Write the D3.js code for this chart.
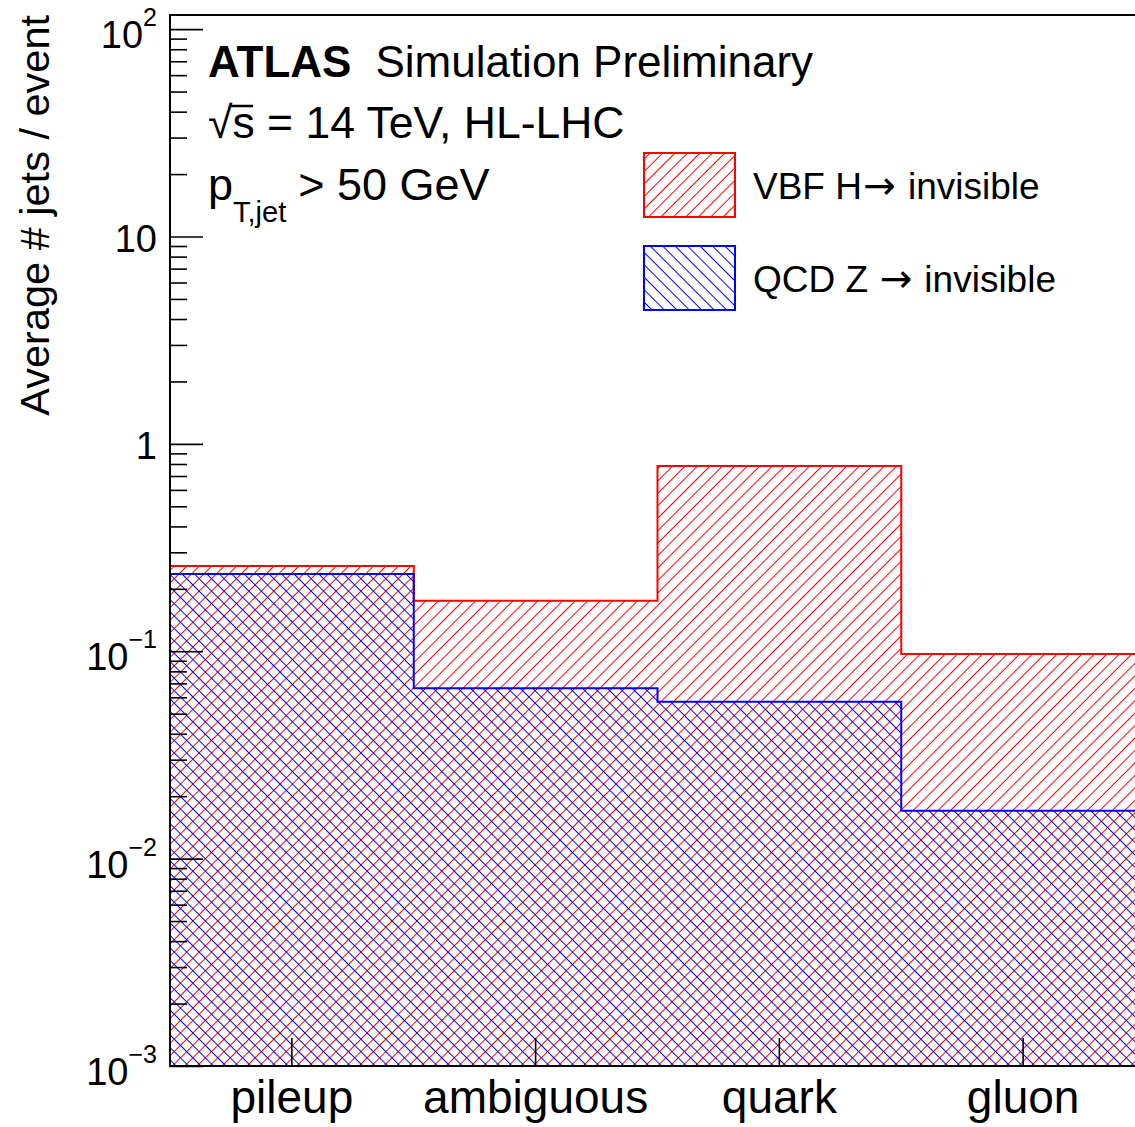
<!DOCTYPE html>
<html>
<head>
<meta charset="utf-8">
<script src="https://cdn.jsdelivr.net/npm/d3@7"></script>
<style>
  body { margin: 0; background: #fff; }
  svg { display: block; font-family: "Liberation Sans", Arial, Helvetica, sans-serif; }
</style>
</head>
<body>
<script>
// data
var categories = ["pileup", "ambiguous", "quark", "gluon"];
var vbfValues = [0.258, 0.175, 0.783, 0.0969];   // VBF H -> invisible
var qcdValues = [0.236, 0.0664, 0.0571, 0.0170]; // QCD Z -> invisible
var yMajorTicks = [0.001, 0.01, 0.1, 1, 10, 100];
var yTickLabels = [["10", "\u22123"], ["10", "\u22122"], ["10", "\u22121"], ["1", ""], ["10", ""], ["10", "2"]];
var yMin = 0.001, yMax = 117;

var W = 1135, H = 1127;
var margin = {top: 15, left: 170, bottom: 61};
var plotRight = 1145;  // frame runs off the right side of the picture

var svg = d3.select("body").append("svg")
  .attr("width", W)
  .attr("height", H);

var defs = svg.append("defs");
function hatch(id, color, angle) {
  var s = 8.8;
  var p = defs.append("pattern")
    .attr("id", id)
    .attr("patternUnits", "userSpaceOnUse")
    .attr("width", s).attr("height", s)
    .attr("patternTransform", "rotate(" + angle + ")");
  p.append("line")
    .attr("x1", 0).attr("y1", s / 2).attr("x2", s).attr("y2", s / 2)
    .attr("stroke", color).attr("stroke-width", 1);
}
hatch("hatchRed", "#ff0000", -45);
hatch("hatchBlue", "#0000ff", 45);

var x = d3.scaleBand()
  .domain(categories)
  .range([margin.left, plotRight])
  .padding(0);

var y = d3.scaleLog()
  .domain([yMin, yMax])
  .range([H - margin.bottom, margin.top]);

// step outline of a histogram
function stepPoints(values) {
  var pts = [[x(categories[0]), y(yMin)]];
  values.forEach(function(v, i) {
    var x0 = x(categories[i]);
    pts.push([x0, y(v)]);
    pts.push([x0 + x.bandwidth(), y(v)]);
  });
  pts.push([x(categories[categories.length - 1]) + x.bandwidth(), y(yMin)]);
  return pts;
}
var line = d3.line();

svg.append("path")
  .attr("d", line(stepPoints(vbfValues)))
  .attr("fill", "url(#hatchRed)")
  .attr("stroke", "#ff0000")
  .attr("stroke-width", 2);

svg.append("path")
  .attr("d", line(stepPoints(qcdValues)))
  .attr("fill", "url(#hatchBlue)")
  .attr("stroke", "#0000ff")
  .attr("stroke-width", 2);

// frame
svg.append("path")
  .attr("d", "M" + plotRight + "," + margin.top + "H" + margin.left + "V" + (H - margin.bottom) + "H" + plotRight)
  .attr("fill", "none")
  .attr("stroke", "#000")
  .attr("stroke-width", 2);

// y ticks (inside the frame)
var minorTicks = [];
for (var e = -3; e <= 2; e++) {
  for (var m = 2; m <= 9; m++) {
    var v = m * Math.pow(10, e);
    if (v <= yMax) minorTicks.push(v);
  }
}
svg.append("g")
  .attr("transform", "translate(" + margin.left + ",0)")
  .call(d3.axisRight(y).tickValues(yMajorTicks).tickSize(33).tickFormat(""))
  .call(function(g) { g.select(".domain").remove(); g.selectAll("line").attr("stroke-width", 1.6); });
svg.append("g")
  .attr("transform", "translate(" + margin.left + ",0)")
  .call(d3.axisRight(y).tickValues(minorTicks).tickSize(17).tickFormat(""))
  .call(function(g) { g.select(".domain").remove(); g.selectAll("line").attr("stroke-width", 1.6); });

// y tick labels with exponents
yMajorTicks.forEach(function(v, i) {
  var lab = yTickLabels[i];
  var t = svg.append("text")
    .attr("x", 157)
    .attr("y", y(v) + (lab[1] ? 19 : 15))
    .attr("text-anchor", "end")
    .attr("font-size", 38);
  t.append("tspan").text(lab[0]);
  if (lab[1]) {
    t.append("tspan").attr("dy", -22).attr("font-size", 25).text(lab[1]);
  }
});

// x ticks (pointing up) and labels
svg.append("g")
  .attr("transform", "translate(0," + (H - margin.bottom) + ")")
  .call(d3.axisTop(x).tickSize(28).tickFormat(""))
  .call(function(g) { g.select(".domain").remove(); g.selectAll("line").attr("stroke-width", 1.6); });
svg.append("g")
  .attr("transform", "translate(0," + (H - margin.bottom) + ")")
  .call(d3.axisBottom(x).tickSize(0).tickPadding(0))
  .call(function(g) {
    g.select(".domain").remove();
    g.selectAll("text")
      .attr("dy", null)
      .attr("y", 47)
      .attr("font-size", 46)
      .attr("font-family", "Liberation Sans, Arial, sans-serif")
      .attr("fill", "#000");
  });

// y axis title
svg.append("text")
  .attr("transform", "translate(49," + margin.top + ") rotate(-90)")
  .attr("text-anchor", "end")
  .attr("font-size", 41.5)
  .text("Average # jets / event");

// ATLAS labels
var lab1 = svg.append("text").attr("x", 208).attr("y", 77).attr("font-size", 44);
lab1.append("tspan").attr("font-weight", "bold").text("ATLAS");
lab1.append("tspan").attr("dx", 24).text("Simulation Preliminary");

svg.append("text").attr("x", 208).attr("y", 138).attr("font-size", 44.5)
  .text("\u221As = 14 TeV, HL-LHC");
svg.append("line")
  .attr("x1", 231).attr("x2", 253).attr("y1", 106).attr("y2", 106)
  .attr("stroke", "#000").attr("stroke-width", 2.5);

var lab3 = svg.append("text").attr("x", 208).attr("y", 200).attr("font-size", 45);
lab3.append("tspan").text("p");
lab3.append("tspan").attr("dy", 22).attr("font-size", 29).text("T,jet");
lab3.append("tspan").attr("dy", -22).attr("dx", 12).text("> 50 GeV");

// legend
var legendItems = [
  {pre: "VBF H", post: " invisible", fill: "url(#hatchRed)", stroke: "#ff0000"},
  {pre: "QCD Z ", post: " invisible", fill: "url(#hatchBlue)", stroke: "#0000ff"}
];
var legend = svg.append("g");
legendItems.forEach(function(d, i) {
  var g = legend.append("g").attr("transform", "translate(644," + (153 + i * 93) + ")");
  g.append("rect")
    .attr("width", 91).attr("height", 64)
    .attr("fill", d.fill)
    .attr("stroke", d.stroke)
    .attr("stroke-width", 2);
  var t = g.append("text")
    .attr("x", 109).attr("y", 46)
    .attr("font-size", 37);
  t.append("tspan").text(d.pre);
  t.append("tspan").attr("font-family", "DejaVu Sans").attr("font-size", 39).attr("dx", 1).text("\u2192");
  t.append("tspan").attr("dx", 2).text(d.post);
});
</script>
</body>
</html>
